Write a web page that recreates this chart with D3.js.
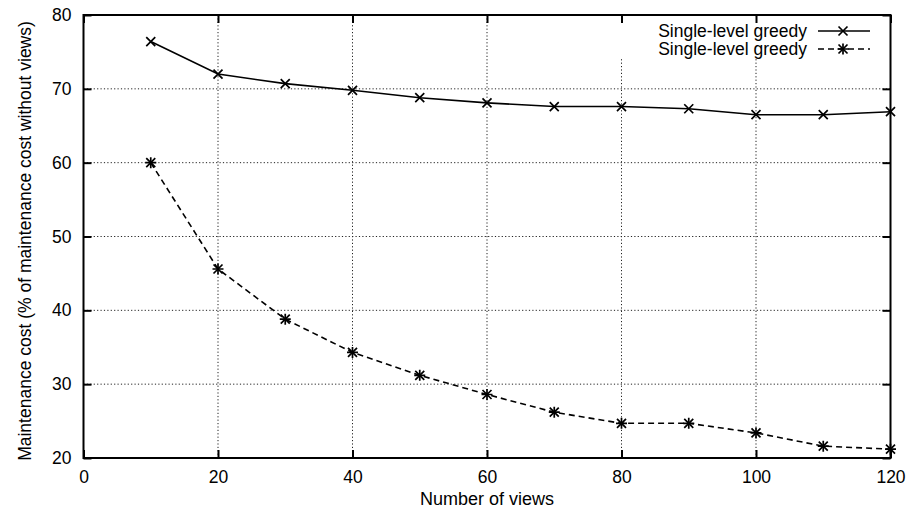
<!DOCTYPE html>
<html>
<head>
<meta charset="utf-8">
<script src="https://cdn.jsdelivr.net/npm/d3@7"></script>
<style>
    body { margin: 0; background: #fff; }
    svg { display: block; font-family: "Liberation Sans", Arial, sans-serif; }
</style>
</head>
<body>
<svg width="909" height="512"></svg>
<script>
// values
var views = [10, 20, 30, 40, 50, 60, 70, 80, 90, 100, 110, 120];
var greedyA = [76.4, 72.0, 70.7, 69.8, 68.8, 68.1, 67.6, 67.6, 67.3, 66.5, 66.5, 66.9];
var greedyB = [60.0, 45.6, 38.8, 34.3, 31.2, 28.6, 26.2, 24.7, 24.7, 23.4, 21.6, 21.2];
var xTicks = [0, 20, 40, 60, 80, 100, 120];
var yTicks = [20, 30, 40, 50, 60, 70, 80];
var legendLabels = ["Single-level greedy", "Single-level greedy"];

var svg = d3.select("svg");
var plotL = 83.5, plotR = 890.5, plotT = 15, plotB = 458;
var fontSize = 17.5;

var x = d3.scaleLinear().domain([0, 120]).range([plotL, plotR]);
var y = d3.scaleLinear().domain([20, 80]).range([plotB, plotT]);

// dotted grid
var grid = svg.append("g").attr("stroke", "#222").attr("stroke-width", 1)
    .attr("stroke-dasharray", "1.2,2.2");
grid.selectAll(".gx").data(xTicks.slice(1, -1)).enter().append("line")
    .attr("x1", function (d) { return x(d); }).attr("x2", function (d) { return x(d); })
    .attr("y1", plotT).attr("y2", plotB);
grid.selectAll(".gy").data(yTicks.slice(1, -1)).enter().append("line")
    .attr("x1", plotL).attr("x2", plotR)
    .attr("y1", function (d) { return y(d); }).attr("y2", function (d) { return y(d); });

// blank box behind the key
svg.append("rect").attr("x", 615).attr("y", 17).attr("width", 272).attr("height", 42)
    .attr("fill", "#fff");

// axes with inward ticks, mirrored on top and right
var tickStyle = function (g) {
    g.select(".domain").remove();
    g.selectAll("text").attr("font-size", fontSize).attr("fill", "#000")
        .attr("font-family", "Liberation Sans, Arial, sans-serif");
    g.selectAll("line").attr("stroke", "#000").attr("stroke-width", 2);
};
svg.append("g").attr("transform", "translate(0," + plotB + ")")
    .call(d3.axisBottom(x).tickValues(xTicks).tickSize(-8).tickPadding(13).tickFormat(d3.format("d")))
    .call(tickStyle);
svg.append("g").attr("transform", "translate(" + plotL + ",0)")
    .call(d3.axisLeft(y).tickValues(yTicks).tickSize(-8).tickPadding(12).tickFormat(d3.format("d")))
    .call(tickStyle);
svg.append("g").attr("transform", "translate(0," + plotT + ")")
    .call(d3.axisTop(x).tickValues(xTicks).tickSize(-8).tickFormat(""))
    .call(tickStyle);
svg.append("g").attr("transform", "translate(" + plotR + ",0)")
    .call(d3.axisRight(y).tickValues(yTicks).tickSize(-8).tickFormat(""))
    .call(tickStyle);

svg.append("rect").attr("x", plotL).attr("y", plotT)
    .attr("width", plotR - plotL).attr("height", plotB - plotT)
    .attr("fill", "none").attr("stroke", "#000").attr("stroke-width", 2);

// axis titles
svg.append("text").attr("x", (plotL + plotR) / 2).attr("y", 505)
    .attr("text-anchor", "middle").attr("font-size", 18)
    .text("Number of views");
svg.append("text").attr("transform", "translate(31,241) rotate(-90)")
    .attr("text-anchor", "middle").attr("font-size", fontSize)
    .text("Maintenance cost (% of maintenance cost without views)");

// markers
function cross(g, s) {
    g.append("path").attr("d", "M" + -s + "," + -s + "L" + s + "," + s + "M" + -s + "," + s + "L" + s + "," + -s)
        .attr("stroke", "#000").attr("stroke-width", 1.7).attr("fill", "none");
}
function star(g, s) {
    cross(g, s);
    g.append("path").attr("d", "M0," + (-s - 1) + "V" + (s + 1) + "M" + (-s - 1) + ",0H" + (s + 1))
        .attr("stroke", "#000").attr("stroke-width", 1.7).attr("fill", "none");
}

var series = [
    { vals: greedyA, dash: null, mark: cross },
    { vals: greedyB, dash: "6,4", mark: star }
];

var line = d3.line()
    .x(function (d) { return x(d[0]); })
    .y(function (d) { return y(d[1]); });

series.forEach(function (s, i) {
    var pts = views.map(function (v, j) { return [v, s.vals[j]]; });
    svg.append("path").datum(pts)
        .attr("d", line)
        .attr("fill", "none").attr("stroke", "#000").attr("stroke-width", 1.6)
        .attr("stroke-dasharray", s.dash);
    svg.selectAll(".m" + i).data(pts).enter().append("g")
        .attr("transform", function (d) { return "translate(" + x(d[0]) + "," + y(d[1]) + ")"; })
        .each(function () { s.mark(d3.select(this), 4.5); });

    // key entry
    var ky = 31 + i * 18;
    svg.append("text").attr("x", 807).attr("y", ky + 6)
        .attr("text-anchor", "end").attr("font-size", fontSize)
        .text(legendLabels[i]);
    svg.append("line").attr("x1", 818).attr("x2", 870).attr("y1", ky).attr("y2", ky)
        .attr("stroke", "#000").attr("stroke-width", 1.6).attr("stroke-dasharray", s.dash);
    s.mark(svg.append("g").attr("transform", "translate(843," + ky + ")"), 4.5);
});
</script>
</body>
</html>
